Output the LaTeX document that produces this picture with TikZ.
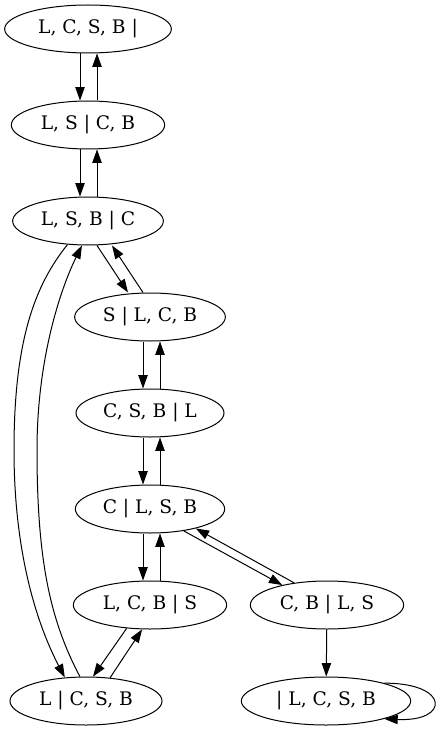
\documentclass[tikz,border=0pt]{standalone}
\usepackage{fontspec}
\setmainfont{DejaVu Serif}
\usetikzlibrary{arrows.meta,shapes.geometric}

\begin{document}
\begin{tikzpicture}[
  x=0.75pt, y=-0.75pt,
  >={Triangle[length=10pt, width=7pt]},
  every path/.style={line width=0.75pt},
  state/.style={ellipse, draw, line width=0.75pt, minimum height=36pt, inner sep=0pt, font=\fontsize{14pt}{16pt}\selectfont}
]
\useasboundingbox (0,0) rectangle (440,731);

\node[state, minimum width=125pt] (lcsb) at (88,29)  {L, C, S, B |};
\node[state, minimum width=115pt] (ls)   at (88,125) {L, S | C, B};
\node[state, minimum width=113pt] (lsb)  at (88,221) {L, S, B | C};
\node[state, minimum width=113pt] (s)    at (150,317) {S | L, C, B};
\node[state, minimum width=111pt] (csb)  at (150,413) {C, S, B | L};
\node[state, minimum width=112pt] (c)    at (150,509) {C | L, S, B};
\node[state, minimum width=115pt] (lcb)  at (150,605) {L, C, B | S};
\node[state, minimum width=114pt] (l)    at (86,701)  {L | C, S, B};
\node[state, minimum width=115pt] (cb)   at (327,605) {C, B | L, S};
\node[state, minimum width=127pt] (none) at (326,701) {| L, C, S, B};

\draw[->] ([xshift=-6pt]lcsb.south) -- ([xshift=-6pt]ls.north);
\draw[->] ([xshift=6.75pt]ls.north) -- ([xshift=6.75pt]lcsb.south);
\draw[->] ([xshift=-6pt]ls.south) -- ([xshift=-6pt]lsb.north);
\draw[->] ([xshift=6.75pt]lsb.north) -- ([xshift=6.75pt]ls.south);

\draw[->] ([xshift=6.75pt]lsb.south) -- ([xshift=-16.5pt]s.north);
\draw[->] ([xshift=-5.25pt]s.north) -- ([xshift=18pt]lsb.south);

\draw[->] ([xshift=-5.25pt]s.south) -- ([xshift=-5.25pt]csb.north);
\draw[->] ([xshift=7.5pt]csb.north) -- ([xshift=7.5pt]s.south);
\draw[->] ([xshift=-5.25pt]csb.south) -- ([xshift=-5.25pt]c.north);
\draw[->] ([xshift=7.5pt]c.north) -- ([xshift=7.5pt]csb.south);
\draw[->] ([xshift=-5.25pt]c.south) -- ([xshift=-5.25pt]lcb.north);
\draw[->] ([xshift=7.5pt]lcb.north) -- ([xshift=7.5pt]c.south);

\draw[->] (c.-33) -- (cb.156);
\draw[->] (cb.146) -- (c.-23);

\draw[->] (lcb.-135) -- (l.74);
\draw[->] (l.44) -- (lcb.-108);

% long way round on the left
\draw[->] (lsb.-131) .. controls (35,285) and (14,340) .. (14,450)
  .. controls (14,560) and (40,630) .. (l.132);
\draw[->] (l.104) .. controls (50,620) and (37,560) .. (37,450)
  .. controls (37,360) and (60,290) .. (lsb.-104);

\draw[->] (cb) -- (none);
\draw[->] (none.17) .. controls (450,683) and (450,722) .. (none.-17);
\end{tikzpicture}
\end{document}
